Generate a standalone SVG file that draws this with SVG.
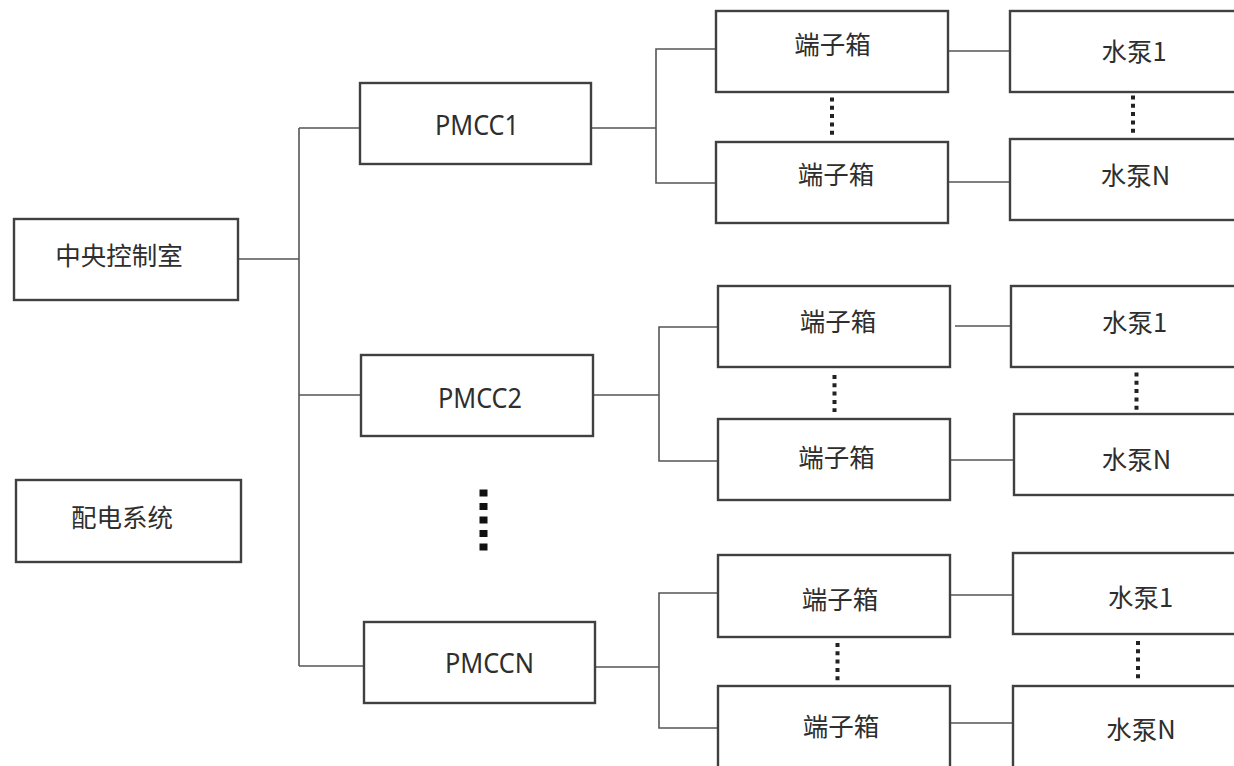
<svg xmlns="http://www.w3.org/2000/svg" width="1234" height="766" viewBox="0 0 1234 766">
<style>
.box{fill:#fff;stroke:#404040;stroke-width:2.4}
.cn{fill:none;stroke:#555;stroke-width:1.6}
.t{font-family:"Noto Sans CJK SC","Noto Sans",sans-serif;font-size:25.5px;fill:#2e2e2e;text-anchor:middle}
.l{font-family:"Noto Sans","Liberation Sans",sans-serif;font-size:27px;fill:#2e2e2e;text-anchor:middle}
.sd{stroke:#222;stroke-width:4;stroke-dasharray:4 4.3;fill:none}
.bd{stroke:#111;stroke-width:8;stroke-dasharray:7 6.5;fill:none}
</style>
<rect width="1234" height="766" fill="#fff"/>
<g id="connectors">
<polyline class="cn" points="238,259 299,259"/>
<polyline class="cn" points="299,128 299,666"/>
<polyline class="cn" points="299,128 360,128"/>
<polyline class="cn" points="299,395 361,395"/>
<polyline class="cn" points="299,666 364,666"/>
<polyline class="cn" points="591,128 656,128"/>
<polyline class="cn" points="716,49 656,49 656,183 716,183"/>
<polyline class="cn" points="948,51 1010,51"/>
<polyline class="cn" points="948,182 1010,182"/>
<polyline class="cn" points="593,395 659,395"/>
<polyline class="cn" points="718,327 659,327 659,461 718,461"/>
<polyline class="cn" points="955,326 1011,326"/>
<polyline class="cn" points="950,460 1014,460"/>
<polyline class="cn" points="595,667 659,667"/>
<polyline class="cn" points="718,593 659,593 659,728 718,728"/>
<polyline class="cn" points="950,595 1013,595"/>
<polyline class="cn" points="950,723 1013,723"/>
</g>
<g id="ellipses">
<line class="sd" x1="832" y1="97.5" x2="832" y2="135"/>
<line class="sd" x1="1133" y1="95.5" x2="1133" y2="133"/>
<line class="sd" x1="834.5" y1="375" x2="834.5" y2="412"/>
<line class="sd" x1="1136.5" y1="372.5" x2="1136.5" y2="410"/>
<line class="sd" x1="837.5" y1="643" x2="837.5" y2="681"/>
<line class="sd" x1="1138" y1="641" x2="1138" y2="679"/>
<line class="bd" x1="483.5" y1="489.5" x2="483.5" y2="551"/>
</g>
<g id="n-central"><rect class="box" x="14" y="219" width="224" height="81"/><text class="t" x="119" y="265">中央控制室</text></g>
<g id="n-power"><rect class="box" x="16" y="480" width="225" height="82"/><text class="t" x="122" y="527">配电系统</text></g>
<g id="n-pmcc1"><rect class="box" x="360" y="83" width="231" height="81"/><text class="l" x="477" y="135" textLength="84" lengthAdjust="spacingAndGlyphs">PMCC1</text></g>
<g id="n-pmcc2"><rect class="box" x="361" y="355" width="232" height="81"/><text class="l" x="480" y="408" textLength="84" lengthAdjust="spacingAndGlyphs">PMCC2</text></g>
<g id="n-pmccn"><rect class="box" x="364" y="622" width="231" height="81"/><text class="l" x="489.5" y="673" textLength="89" lengthAdjust="spacingAndGlyphs">PMCCN</text></g>
<g id="n-tb11"><rect class="box" x="716" y="11" width="232" height="81"/><text class="t" x="832.5" y="54">端子箱</text></g>
<g id="n-tb1n"><rect class="box" x="716" y="142" width="232" height="81"/><text class="t" x="836" y="184">端子箱</text></g>
<g id="n-p11"><rect class="box" x="1010" y="11" width="240" height="81"/><text class="t" x="1134" y="60.5">水泵1</text></g>
<g id="n-p1n"><rect class="box" x="1010" y="139" width="240" height="81"/><text class="t" x="1135.5" y="184.5">水泵N</text></g>
<g id="n-tb21"><rect class="box" x="718" y="286" width="232" height="81"/><text class="t" x="838" y="330.5">端子箱</text></g>
<g id="n-tb2n"><rect class="box" x="718" y="419" width="232" height="81"/><text class="t" x="836.5" y="467">端子箱</text></g>
<g id="n-p21"><rect class="box" x="1011" y="286" width="240" height="81"/><text class="t" x="1134.5" y="332">水泵1</text></g>
<g id="n-p2n"><rect class="box" x="1014" y="414" width="240" height="81"/><text class="t" x="1136.5" y="469">水泵N</text></g>
<g id="n-tbn1"><rect class="box" x="718" y="555" width="232" height="82"/><text class="t" x="840" y="609">端子箱</text></g>
<g id="n-tbnn"><rect class="box" x="718" y="686" width="232" height="82"/><text class="t" x="841" y="735.5">端子箱</text></g>
<g id="n-pn1"><rect class="box" x="1013" y="553" width="240" height="81"/><text class="t" x="1140.5" y="607">水泵1</text></g>
<g id="n-pnn"><rect class="box" x="1013" y="686" width="240" height="82"/><text class="t" x="1141" y="739">水泵N</text></g>
</svg>
